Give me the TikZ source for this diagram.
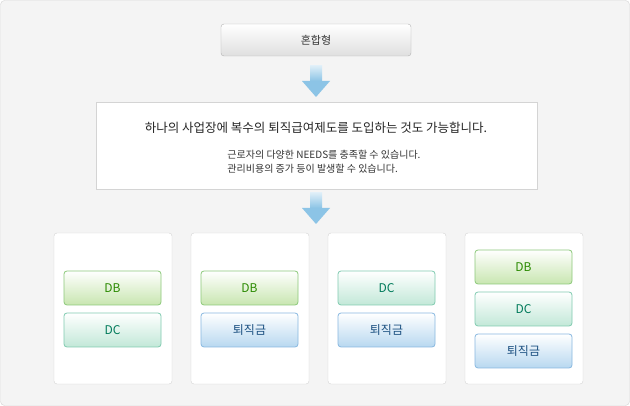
\documentclass[tikz,border=0pt]{standalone}
\usepackage{fontspec}
\setmainfont{Noto Sans CJK KR}
\begin{document}
\begin{tikzpicture}[x=1pt,y=-1pt,
 chip/.style 2 args={rounded corners=3pt,draw=#1,line width=0.8pt,top color=white,bottom color=#2}]
\definecolor{bgc}{HTML}{F4F4F4}
\definecolor{bdc}{HTML}{D4D4D4}
\definecolor{arc}{HTML}{8CC4E6}
\definecolor{dbf}{HTML}{C8E6B0}\definecolor{dbb}{HTML}{8CC97A}\definecolor{dbt}{HTML}{2A8A00}
\definecolor{dcf}{HTML}{C2E8D8}\definecolor{dcb}{HTML}{80CBB0}\definecolor{dct}{HTML}{007A5A}
\definecolor{rtf}{HTML}{B8D8F0}\definecolor{rtb}{HTML}{88B8E0}\definecolor{rtt}{HTML}{1A4F80}
\useasboundingbox (0,0) rectangle (630,406);
\draw[fill=bgc,draw=bdc,rounded corners=4pt] (0.5,0.5) rectangle (629.5,405.5);
% top
\draw[rounded corners=3pt,draw=gray!60,top color=white,bottom color=gray!25] (221,24) rectangle (411,56);
\node[font=\fontsize{11}{12}\selectfont,text=black!80] (top) at (316,40) {혼합형};
% arrows
\foreach \y in {66,193}{
 \shade[top color=arc!30,bottom color=arc] (310,\y) rectangle (322,\y+15);
 \fill[arc] (302,\y+15) -- (330,\y+15) -- (316,\y+31) -- cycle;}
% main
\draw[fill=white,draw=bdc] (96,102) rectangle (537,189);
\node[font=\fontsize{12.5}{14}\selectfont,text=black!85] (m1) at (316,128) {하나의 사업장에 복수의 퇴직급여제도를 도입하는 것도 가능합니다.};
\node[align=left,font=\fontsize{10}{14}\selectfont,text=black!80] (m2) at (324,162) {근로자의 다양한 NEEDS를 충족할 수 있습니다.\\ 관리비용의 증가 등이 발생할 수 있습니다.};
% columns
\foreach \x in {54,191,328,465}{\draw[fill=white,draw=bdc,rounded corners=3pt] (\x,233) rectangle (\x+118,384);}
\newcommand\chipbox[6]{\draw[chip={#4}{#5}] (#1,#2) rectangle (#1+97,#2+34);
 \node[text=#6,font=\fontsize{12}{13}\selectfont] at (#1+48.5,#2+17) {#3};}
\chipbox{64}{271}{DB}{dbb}{dbf}{dbt}
\chipbox{64}{313}{DC}{dcb}{dcf}{dct}
\chipbox{201}{271}{DB}{dbb}{dbf}{dbt}
\chipbox{201}{313}{퇴직금}{rtb}{rtf}{rtt}
\chipbox{338}{271}{DC}{dcb}{dcf}{dct}
\chipbox{338}{313}{퇴직금}{rtb}{rtf}{rtt}
\chipbox{475}{250}{DB}{dbb}{dbf}{dbt}
\chipbox{475}{292}{DC}{dcb}{dcf}{dct}
\chipbox{475}{334}{퇴직금}{rtb}{rtf}{rtt}
\end{tikzpicture}
\end{document}
